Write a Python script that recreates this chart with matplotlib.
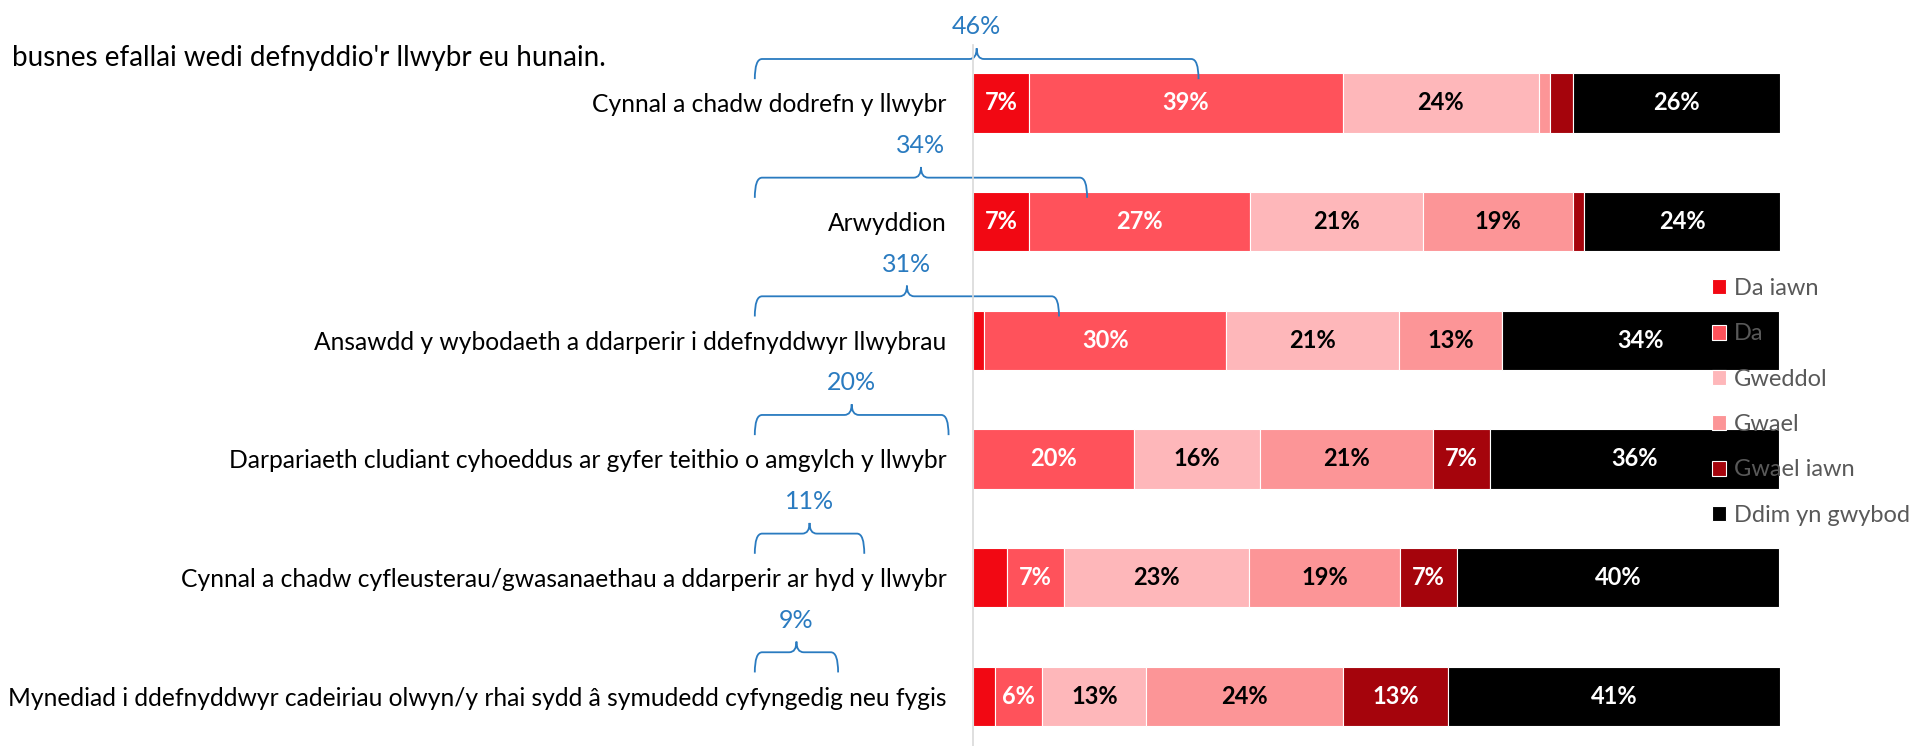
import numpy as np
import matplotlib.pyplot as plt
from matplotlib.path import Path
from matplotlib.patches import PathPatch

plt.rcParams['font.family'] = ['Lato', 'DejaVu Sans']

categories = [
    "Cynnal a chadw dodrefn y llwybr",
    "Arwyddion",
    "Ansawdd y wybodaeth a ddarperir i ddefnyddwyr llwybrau",
    "Darpariaeth cludiant cyhoeddus ar gyfer teithio o amgylch y llwybr",
    "Cynnal a chadw cyfleusterau/gwasanaethau a ddarperir ar hyd y llwybr",
    "Mynediad i ddefnyddwyr cadeiriau olwyn/y rhai sydd \u00e2 symudedd cyfyngedig neu fygis",
]
series_names = ["Da iawn", "Da", "Gweddol", "Gwael", "Gwael iawn", "Ddim yn gwybod"]

da_iawn = [7.0, 7.0, 1.4, 0.0, 4.2, 2.8]
da = [38.8, 27.3, 30.0, 20.0, 7.1, 5.8]
gweddol = [24.3, 21.4, 21.4, 15.6, 22.9, 12.9]
gwael = [1.4, 18.6, 12.7, 21.4, 18.7, 24.4]
gwael_iawn = [2.9, 1.4, 0.0, 7.1, 7.1, 12.9]
ddim = [25.6, 24.3, 34.3, 35.7, 39.9, 41.2]

colors = ['#F20813', '#FF525B', '#FEB7BA', '#FC9597', '#A5040C', '#000000']
label_colors = ['white', 'white', 'black', 'black', 'white', 'white']
blue = '#2A7BC0'

title = "busnes efallai wedi defnyddio'r llwybr eu hunain."

fig = plt.figure(figsize=(19.21, 7.46), dpi=100)
ax = fig.add_axes([0.5064, 0.0, 0.4203, 0.94])

data = [da_iawn, da, gweddol, gwael, gwael_iawn, ddim]
y = np.arange(len(categories))
left = np.zeros(len(categories))
for vals, col, lc, name in zip(data, colors, label_colors, series_names):
    vals = np.array(vals)
    ax.barh(y, vals, left=left, height=0.5, color=col, edgecolor='white',
            linewidth=0.8, label=name)
    for yi, l, v in zip(y, left, vals):
        if v >= 5:
            ax.text(l + v / 2, yi, f"{v:.0f}%", ha='center', va='center',
                    color=lc, fontsize=17, fontweight='bold')
    left += vals

# curly brackets for Da iawn + Da (drawn offset like the original)
good = np.array(da_iawn) + np.array(da)
x0, sc, r = -27.0, 1.2, 0.9
for yi, g in zip(y, good):
    x1 = x0 + sc * g
    xm = (x0 + x1) / 2
    yt, yl, yp = yi - 0.2, yi - 0.37, yi - 0.46
    verts = [(x0, yt), (x0, yl), (x0 + r, yl),
             (xm - r, yl), (xm, yl), (xm, yp),
             (xm, yl), (xm + r, yl),
             (x1 - r, yl), (x1, yl), (x1, yt)]
    codes = [Path.MOVETO, Path.CURVE3, Path.CURVE3,
             Path.LINETO, Path.CURVE3, Path.CURVE3,
             Path.CURVE3, Path.CURVE3,
             Path.LINETO, Path.CURVE3, Path.CURVE3]
    ax.add_patch(PathPatch(Path(verts, codes), fill=False, edgecolor=blue,
                           linewidth=1.3, clip_on=False))
    ax.text(xm, yi - 0.64, f"{g:.0f}%", ha='center', va='center',
            color=blue, fontsize=18, clip_on=False)

ax.set_xlim(0, 100)
ax.set_ylim(5.42, -0.49)
ax.set_yticks(y)
ax.set_yticklabels(categories, fontsize=17.7)
ax.tick_params(axis='y', length=0, pad=19)
ax.set_xticks([])
for s in ['top', 'right', 'bottom']:
    ax.spines[s].set_visible(False)
ax.spines['left'].set_color('#D9D9D9')
ax.spines['left'].set_linewidth(1.2)

fig.text(12 / 1921, 1 - 58 / 746, title, fontsize=20, va='center', ha='left')

leg = fig.legend(loc='upper left', bbox_to_anchor=(0.885, 0.643), frameon=False,
                 fontsize=17, handlelength=0.6, handleheight=0.6,
                 handletextpad=0.35, labelspacing=1.03, borderpad=0)
for t in leg.get_texts():
    t.set_color('#595959')

fig.savefig('out.png', dpi=100)
